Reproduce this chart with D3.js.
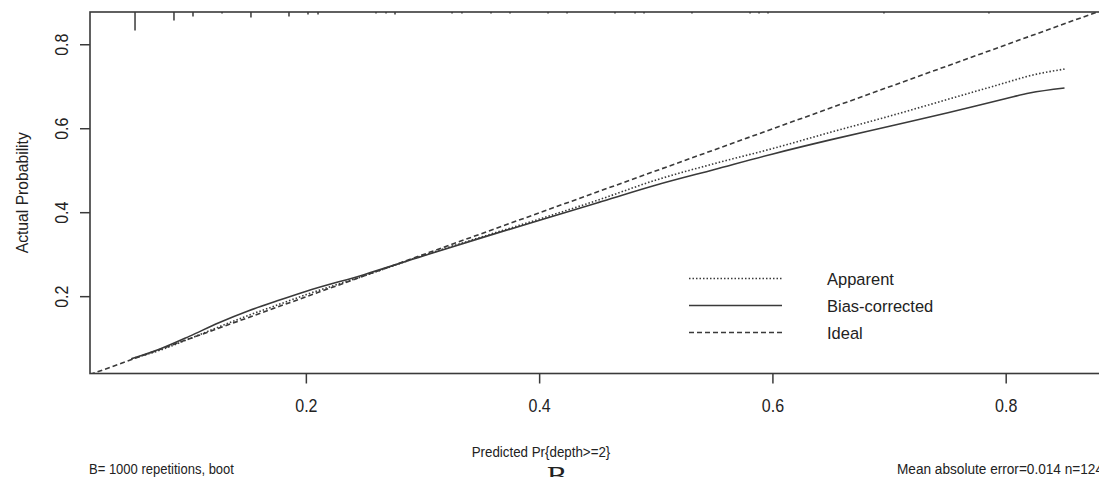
<!DOCTYPE html>
<html>
<head>
<meta charset="utf-8">
<script src="https://cdn.jsdelivr.net/npm/d3@7"></script>
<style>
  html, body { margin: 0; padding: 0; background: #fff; }
  #chart { width: 1099px; height: 477px; overflow: hidden; }
  text { font-family: "Liberation Sans", Arial, sans-serif; fill: #222; }
</style>
</head>
<body>
<div id="chart"></div>
<script>
// predicted probability grid and calibration curves
const predicted = [0.05, 0.075, 0.10, 0.125, 0.15, 0.175, 0.20, 0.25, 0.30, 0.35, 0.40, 0.45, 0.50, 0.55, 0.60, 0.65, 0.70, 0.75, 0.80, 0.82, 0.85];
const apparent = [0.052, 0.073, 0.100, 0.128, 0.155, 0.180, 0.205, 0.250, 0.298, 0.342, 0.385, 0.430, 0.478, 0.517, 0.553, 0.592, 0.630, 0.670, 0.710, 0.726, 0.742];
const biasCorrected = [0.052, 0.076, 0.106, 0.138, 0.166, 0.190, 0.213, 0.253, 0.297, 0.340, 0.382, 0.424, 0.466, 0.503, 0.540, 0.574, 0.606, 0.638, 0.672, 0.685, 0.697];

// spike histogram of predictions along the top
const rugX = [0.0531, 0.0865, 0.1028, 0.1277, 0.1525, 0.1851, 0.2014, 0.2100, 0.2597, 0.2683, 0.2760, 0.3249, 0.3334, 0.3583, 0.3746, 0.4072, 0.4235, 0.4646, 0.4818, 0.4895, 0.5306, 0.5804, 0.5881, 0.5958, 0.6952, 0.7852];
const rugCount = [18, 8, 4, 1, 5, 4, 2, 2, 1, 1, 2, 1, 1, 1, 1, 1, 1, 1, 1, 1, 1, 1, 1, 1, 1, 1];

const xTicks = [0.2, 0.4, 0.6, 0.8];
const yTicks = [0.2, 0.4, 0.6, 0.8];
const xlim = [0.0145, 0.889];
const ylim = [0.017, 0.878];

const legendItems = [
    { label: "Apparent", dash: "1.5,2" },
    { label: "Bias-corrected", dash: null },
    { label: "Ideal", dash: "5,3" }
];

const width = 1099, height = 477;
const plot = { left: 90, right: 1110, top: 12, bottom: 373.5 };
const ink = "#3a3a3a";

const x = d3.scaleLinear().domain(xlim).range([plot.left, plot.right]);
const y = d3.scaleLinear().domain(ylim).range([plot.bottom, plot.top]);

const svg = d3.create("svg")
    .attr("width", width)
    .attr("height", height)
    .attr("viewBox", [0, 0, width, height]);

// the source image text is a little taller than it is wide
function label(parent, px, py, str, size, sx, rot) {
    return parent.append("text")
        .attr("transform", `translate(${px},${py})` + (rot ? ` rotate(${rot})` : "") + ` scale(${sx},1)`)
        .style("font-size", size + "px")
        .text(str);
}

svg.append("defs").append("clipPath")
    .attr("id", "plotclip")
    .append("rect")
    .attr("x", plot.left)
    .attr("y", plot.top)
    .attr("width", plot.right - plot.left)
    .attr("height", plot.bottom - plot.top);

const g = svg.append("g").attr("clip-path", "url(#plotclip)");

// ideal 45 degree line
g.append("line")
    .attr("x1", x(xlim[0])).attr("y1", y(xlim[0]))
    .attr("x2", x(xlim[1])).attr("y2", y(xlim[1]))
    .attr("stroke", ink)
    .attr("stroke-width", 1.6)
    .attr("stroke-dasharray", "5,3");

const line = d3.line()
    .x(d => x(d[0]))
    .y(d => y(d[1]))
    .curve(d3.curveMonotoneX);

g.append("path")
    .attr("d", line(d3.zip(predicted, apparent)))
    .attr("fill", "none")
    .attr("stroke", ink)
    .attr("stroke-width", 1.6)
    .attr("stroke-dasharray", "1.5,2");

g.append("path")
    .attr("d", line(d3.zip(predicted, biasCorrected)))
    .attr("fill", "none")
    .attr("stroke", ink)
    .attr("stroke-width", 1.6);

// rug spikes hanging from top border
const h = d3.scaleLinear().domain([0, d3.max(rugCount)]).range([0, 18]);
g.append("g")
    .selectAll("line")
    .data(d3.zip(rugX, rugCount))
    .join("line")
    .attr("x1", d => x(d[0])).attr("x2", d => x(d[0]))
    .attr("y1", plot.top).attr("y2", d => plot.top + h(d[1]) + 0.5)
    .attr("stroke", ink)
    .attr("stroke-width", 1.5);

// box (right side falls outside the picture)
svg.append("rect")
    .attr("x", plot.left).attr("y", plot.top)
    .attr("width", plot.right - plot.left)
    .attr("height", plot.bottom - plot.top)
    .attr("fill", "none")
    .attr("stroke", ink)
    .attr("stroke-width", 1.6);

// x axis
const xAxis = svg.append("g");
xAxis.selectAll("line")
    .data(xTicks)
    .join("line")
    .attr("x1", d => x(d)).attr("x2", d => x(d))
    .attr("y1", plot.bottom).attr("y2", plot.bottom + 10)
    .attr("stroke", ink)
    .attr("stroke-width", 1.5);
xTicks.forEach(t => {
    label(xAxis, x(t), 412, d3.format(".1f")(t), 18, 0.89)
        .attr("text-anchor", "middle");
});

// y axis
const yAxis = svg.append("g");
yAxis.selectAll("line")
    .data(yTicks)
    .join("line")
    .attr("x1", plot.left - 10).attr("x2", plot.left)
    .attr("y1", d => y(d)).attr("y2", d => y(d))
    .attr("stroke", ink)
    .attr("stroke-width", 1.5);
yTicks.forEach(t => {
    label(yAxis, 68, y(t), d3.format(".1f")(t), 18, 0.89, -90)
        .attr("text-anchor", "middle");
});

label(svg, 28, (plot.top + plot.bottom) / 2, "Actual Probability", 16, 0.98, -90)
    .attr("text-anchor", "middle");

label(svg, 541, 457, "Predicted Pr{depth>=2}", 14.5, 0.92)
    .attr("text-anchor", "middle");

label(svg, 89, 474, "B= 1000 repetitions, boot", 14, 0.93);
label(svg, 897, 474, "Mean absolute error=0.014 n=1247", 14.5, 0.94);

// panel letter, mostly cut off by the bottom edge
svg.append("text")
    .attr("x", 547)
    .attr("y", 486)
    .style("font-family", "'Liberation Serif', 'DejaVu Serif', serif")
    .style("font-size", "30px")
    .text("B");

// legend
const legend = svg.append("g");
const legendY = d3.scaleBand()
    .domain(legendItems.map(d => d.label))
    .range([265, 346]);
legendItems.forEach(item => {
    const ly = legendY(item.label) + legendY.bandwidth() / 2;
    legend.append("line")
        .attr("x1", 689).attr("x2", 782)
        .attr("y1", ly).attr("y2", ly)
        .attr("stroke", ink)
        .attr("stroke-width", 1.6)
        .attr("stroke-dasharray", item.dash);
    label(legend, 827, ly + 6, item.label, 17, 0.97);
});

document.getElementById("chart").appendChild(svg.node());
</script>
</body>
</html>
